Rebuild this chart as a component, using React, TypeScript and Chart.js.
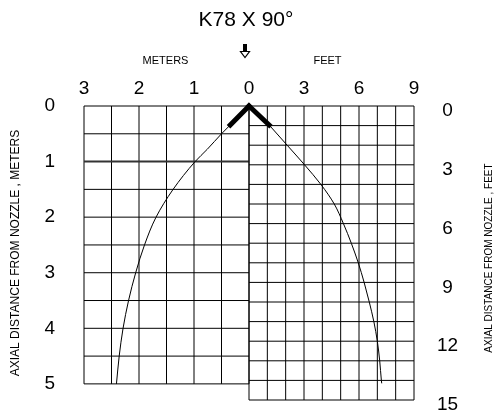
import React, { useEffect, useRef } from "react";
import { Chart, registerables } from "chart.js";

Chart.register(...registerables);

// ---- texts ----
const chartTitle = "K78 X 90°";
const leftUnitLabel = "METERS";
const rightUnitLabel = "FEET";
const leftAxisTitle = "AXIAL DISTANCE FROM NOZZLE , METERS";
const rightAxisTitle = "AXIAL DISTANCE FROM NOZZLE , FEET";

// ---- ticks ----
// top axis is laid out on the feet scale (-9..9); the left half shows meters
const topTickValues = [-9, -6, -3, 0, 3, 6, 9];
const topTickLabels = ["3", "2", "1", "0", "3", "6", "9"];
const meterAxialTicks = [0, 1, 2, 3, 4, 5];
const feetAxialTicks = [0, 3, 6, 9, 12, 15];

// ---- panel extents (grid) ----
const meterPanelWidth = 3; // horizontal meters
const meterPanelDepth = 5; // axial meters
const meterGridStep = 0.5;
const feetPanelWidth = 9; // horizontal feet
const feetPanelDepth = 15; // axial feet
const feetGridStep = 1;

// ---- spray profile, metric side (horizontal m, axial m) ----
const meterCurveH = [0.34, 0.5, 0.76, 0.98, 1.38, 1.69, 1.9, 2.06, 2.19, 2.29, 2.36, 2.41];
const meterCurveA = [0.34, 0.5, 0.78, 1.0, 1.5, 2.0, 2.5, 3.0, 3.5, 4.0, 4.5, 5.0];

// ---- spray profile, imperial side (horizontal ft, axial ft) ----
const feetCurveH = [1.1, 2.08, 3.03, 3.92, 4.65, 5.15, 5.58, 5.96, 6.28, 6.56, 6.81, 7.0, 7.13, 7.22, 7.24];
const feetCurveA = [0.97, 2.0, 3.0, 4.0, 5.0, 6.0, 7.0, 8.0, 9.0, 10.0, 11.0, 12.0, 13.0, 14.0, 14.15];

// ---- nozzle (thick arms) ----
const nozzleMeterH = [0, 0.34];
const nozzleMeterA = [0, 0.34];
const nozzleFeetH = [0, 1.1];
const nozzleFeetA = [0, 0.97];

const FONT = "'Liberation Sans', Arial, Helvetica, sans-serif";

const toPts = (xs: number[], ys: number[]) => xs.map((x, i) => ({ x, y: ys[i] }));

const zeroPad = (s: any) => {
  s.paddingTop = 0;
  s.paddingBottom = 0;
  s.paddingLeft = 0;
  s.paddingRight = 0;
};

const gridPlugin = {
  id: "panelGrid",
  beforeDatasetsDraw(chart: any) {
    const { ctx, scales } = chart;
    const { xM, yM, xF, yF } = scales;
    ctx.save();
    const line = (x1: number, y1: number, x2: number, y2: number, w = 1, c = "#000") => {
      ctx.beginPath();
      ctx.lineWidth = w;
      ctx.strokeStyle = c;
      ctx.moveTo(x1, y1);
      ctx.lineTo(x2, y2);
      ctx.stroke();
    };
    // metric panel
    for (let k = 0; k * meterGridStep <= meterPanelWidth + 1e-9; k++) {
      const m = k * meterGridStep;
      const px = xM.getPixelForValue(m);
      line(px, yM.getPixelForValue(0), px, yM.getPixelForValue(meterPanelDepth));
    }
    for (let k = 0; k * meterGridStep <= meterPanelDepth + 1e-9; k++) {
      const m = k * meterGridStep;
      const py = yM.getPixelForValue(m);
      const heavy = m === 1;
      line(xM.getPixelForValue(meterPanelWidth), py, xM.getPixelForValue(0), py, heavy ? 2 : 1, heavy ? "#333" : "#000");
    }
    // imperial panel
    for (let f = 0; f <= feetPanelWidth; f += feetGridStep) {
      const px = xF.getPixelForValue(f);
      line(px, yF.getPixelForValue(0), px, yF.getPixelForValue(feetPanelDepth));
    }
    for (let f = 0; f <= feetPanelDepth; f += feetGridStep) {
      const py = yF.getPixelForValue(f);
      line(xF.getPixelForValue(0), py, xF.getPixelForValue(feetPanelWidth), py);
    }
    ctx.restore();
  },
};

const textPlugin = {
  id: "decorations",
  afterDraw(chart: any) {
    const { ctx, scales } = chart;
    const { xM, xF } = scales;
    ctx.save();
    ctx.fillStyle = "#000";
    ctx.textAlign = "center";
    ctx.textBaseline = "middle";

    // title
    ctx.font = `21px ${FONT}`;
    ctx.fillText(chartTitle, 246, 20);

    // unit labels
    ctx.font = `11px ${FONT}`;
    const mCenter = (xM.getPixelForValue(meterPanelWidth) + xM.getPixelForValue(0)) / 2;
    const fCenter = (xF.getPixelForValue(0) + xF.getPixelForValue(feetPanelWidth)) / 2;
    ctx.fillText(leftUnitLabel, mCenter - 1, 61);
    ctx.fillText(rightUnitLabel, fCenter - 4, 61);

    // arrow
    ctx.fillRect(243, 44, 4, 8);
    ctx.beginPath();
    ctx.moveTo(240.5, 51.5);
    ctx.lineTo(249.5, 51.5);
    ctx.lineTo(245, 57.5);
    ctx.closePath();
    ctx.fillStyle = "#fff";
    ctx.fill();
    ctx.strokeStyle = "#000";
    ctx.lineWidth = 1.2;
    ctx.stroke();

    // right axis title (reads bottom to top)
    ctx.fillStyle = "#000";
    ctx.font = `10px ${FONT}`;
    ctx.translate(489, 258);
    ctx.rotate(-Math.PI / 2);
    ctx.fillText(rightAxisTitle, 0, 0);
    ctx.restore();
  },
};

export default function App() {
  const canvasRef = useRef<HTMLCanvasElement | null>(null);

  useEffect(() => {
    if (!canvasRef.current) return;
    const thin = {
      borderColor: "#000",
      borderWidth: 1,
      pointRadius: 0,
      showLine: true,
      fill: false,
      indexAxis: "y" as const,
      cubicInterpolationMode: "monotone" as const,
      clip: false as any,
    };
    const thick = {
      borderColor: "#000",
      borderWidth: 5,
      pointRadius: 0,
      showLine: true,
      fill: false,
      tension: 0,
      borderCapStyle: "square" as const,
      clip: false as any,
    };
    const chart = new Chart(canvasRef.current, {
      type: "scatter",
      data: {
        datasets: [
          { ...thin, label: "metric", data: toPts(meterCurveH, meterCurveA), xAxisID: "xM", yAxisID: "yM" },
          { ...thin, label: "imperial", data: toPts(feetCurveH, feetCurveA), xAxisID: "xF", yAxisID: "yF" },
          { ...thick, label: "nozzle m", data: toPts(nozzleMeterH, nozzleMeterA), xAxisID: "xM", yAxisID: "yM" },
          { ...thick, label: "nozzle ft", data: toPts(nozzleFeetH, nozzleFeetA), xAxisID: "xF", yAxisID: "yF" },
        ] as any,
      },
      options: {
        animation: false,
        responsive: false,
        devicePixelRatio: 1,
        layout: { padding: { top: 0, left: 0, right: 0, bottom: 11 } },
        plugins: { legend: { display: false }, tooltip: { enabled: false }, title: { display: false } },
        scales: {
          xM: { type: "linear", display: false, min: -meterPanelWidth, max: meterPanelWidth, reverse: true },
          xF: {
            type: "linear",
            position: "top",
            min: -feetPanelWidth,
            max: feetPanelWidth,
            grid: { display: false, drawTicks: false },
            border: { display: false },
            afterBuildTicks: (s: any) => {
              s.ticks = topTickValues.map((v) => ({ value: v }));
            },
            ticks: {
              autoSkip: false,
              maxRotation: 0,
              padding: 6,
              color: "#000",
              font: { size: 19, family: FONT },
              callback: (_v: any, i: number) => topTickLabels[i],
            },
            afterFit: (s: any) => {
              s.height = 106;
              zeroPad(s);
            },
          },
          yM: {
            type: "linear",
            position: "left",
            min: 0,
            max: 5.29,
            reverse: true,
            grid: { display: false, drawTicks: false },
            border: { display: false },
            afterBuildTicks: (s: any) => {
              s.ticks = meterAxialTicks.map((v) => ({ value: v }));
            },
            ticks: {
              autoSkip: false,
              crossAlign: "center",
              padding: 29,
              color: "#000",
              font: { size: 19, family: FONT },
              callback: (v: any) => String(v),
            },
            title: {
              display: true,
              text: leftAxisTitle,
              color: "#000",
              font: { size: 12, family: FONT },
              padding: { top: 8, bottom: 0 },
            },
            afterFit: (s: any) => {
              s.width = 84;
              zeroPad(s);
            },
          },
          yF: {
            type: "linear",
            position: "right",
            min: 0,
            max: feetPanelDepth,
            reverse: true,
            grid: { display: false, drawTicks: false },
            border: { display: false },
            afterBuildTicks: (s: any) => {
              s.ticks = feetAxialTicks.map((v) => ({ value: v }));
            },
            ticks: {
              autoSkip: false,
              crossAlign: "center",
              padding: 23,
              labelOffset: 5,
              color: "#000",
              font: { size: 19, family: FONT },
              callback: (v: any) => String(v),
            },
            afterFit: (s: any) => {
              s.width = 81;
              zeroPad(s);
            },
          },
        } as any,
      },
      plugins: [gridPlugin, textPlugin],
    });
    return () => chart.destroy();
  }, []);

  return (
    <div style={{ position: "absolute", left: 0, top: 0, width: 495, height: 411, background: "#fff" }}>
      <canvas ref={canvasRef} width={495} height={411} />
    </div>
  );
}
